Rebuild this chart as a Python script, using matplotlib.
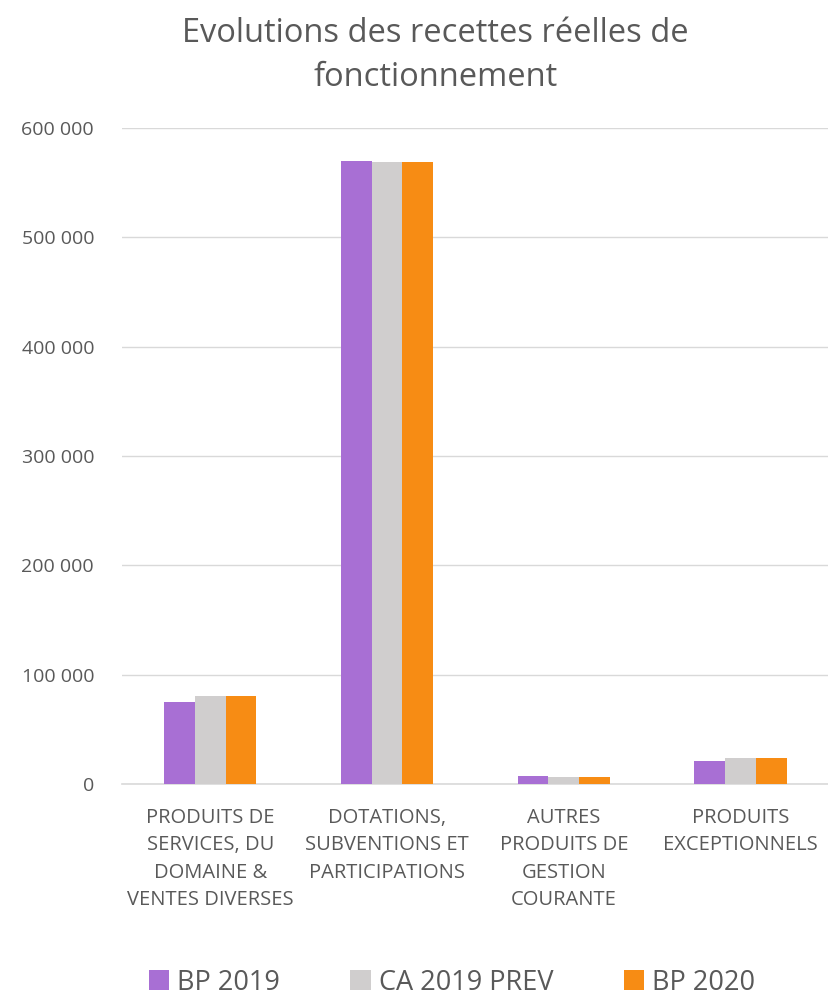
import numpy as np
import matplotlib.pyplot as plt

categories = ["PRODUITS DE\nSERVICES, DU\nDOMAINE &\nVENTES DIVERSES",
              "DOTATIONS,\nSUBVENTIONS ET\nPARTICIPATIONS",
              "AUTRES\nPRODUITS DE\nGESTION\nCOURANTE",
              "PRODUITS\nEXCEPTIONNELS"]
series_names = ["BP 2019", "CA 2019 PREV", "BP 2020"]
bp_2019 = [75000, 570000, 7000, 20800]
ca_2019_prev = [80500, 568500, 6100, 23800]
bp_2020 = [80500, 568500, 6000, 23800]
colors = ["#A86FD4", "#D0CECE", "#F78C14"]

plt.rcParams['font.family'] = ['Open Sans', 'DejaVu Sans']
txt = "#595959"

fig = plt.figure(figsize=(8.29, 10.02), dpi=100)
ax = fig.add_axes([0.147, 0.2176, 0.853, 0.6547])

x = np.arange(len(categories))
w = 0.174
for i, (vals, name) in enumerate(zip([bp_2019, ca_2019_prev, bp_2020], series_names)):
    ax.bar(x + (i - 1) * w, vals, w, color=colors[i], label=name, zorder=3)

ax.set_xlim(-0.5, len(categories) - 0.5)
ax.set_ylim(0, 600000)
ax.set_yticks(np.arange(0, 600001, 100000))
ax.set_yticklabels([f"{v:,}".replace(",", " ") for v in range(0, 600001, 100000)])
ax.yaxis.grid(True, color="#D9D9D9", linewidth=1, zorder=0)
ax.set_xticks(x)
ax.set_xticklabels(categories, linespacing=1.5, va="top")
ax.tick_params(axis="both", length=0, colors=txt)
ax.tick_params(axis="y", pad=20, labelsize=14)
ax.tick_params(axis="x", pad=17, labelsize=14.5)
for s in ["top", "right", "left"]:
    ax.spines[s].set_visible(False)
ax.spines["bottom"].set_color("#D9D9D9")
ax.spines["bottom"].set_linewidth(1.2)

fig.suptitle("Evolutions des recettes réelles de\nfonctionnement", x=0.525, y=0.983,
             fontsize=23.5, color=txt, linespacing=1.45)

fig.legend(loc="lower center", bbox_to_anchor=(0.545, -0.019), ncol=3, frameon=False,
           fontsize=19.5, labelcolor=txt, handlelength=0.75, handleheight=0.75,
           handletextpad=0.3, columnspacing=2.6)

fig.savefig("out.png", dpi=100)
